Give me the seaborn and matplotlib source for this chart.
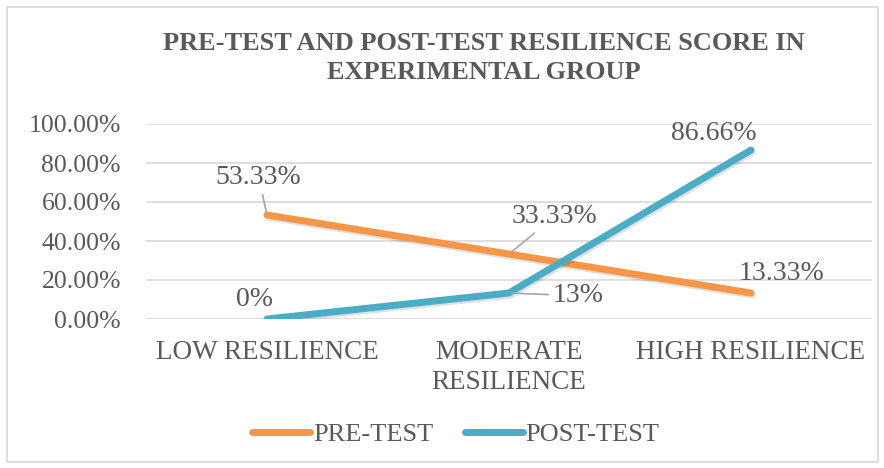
import matplotlib
matplotlib.use("Agg")
import matplotlib.pyplot as plt
import matplotlib.patheffects as pe
from matplotlib.lines import Line2D
from matplotlib.patches import Rectangle
import seaborn as sns
import pandas as pd

categories = ["LOW RESILIENCE", "MODERATE\nRESILIENCE", "HIGH RESILIENCE"]
pre_test = [53.33, 33.33, 13.33]
post_test = [0.0, 13.33, 86.66]
pre_labels = ["53.33%", "33.33%", "13.33%"]
post_labels = ["0%", "13%", "86.66%"]
series_names = ["PRE-TEST", "POST-TEST"]
yticks = [0, 20, 40, 60, 80, 100]
ytick_labels = ["0.00%", "20.00%", "40.00%", "60.00%", "80.00%", "100.00%"]
title = "PRE-TEST AND POST-TEST RESILIENCE SCORE IN\nEXPERIMENTAL GROUP"

colors = {"PRE-TEST": "#F79646", "POST-TEST": "#4BACC6"}
text_color = "#595959"
grid_color = "#D9D9D9"

sns.set_theme(style="white")
plt.rcParams["font.family"] = ["Liberation Serif", "DejaVu Serif"]

rows = []
for i, c in enumerate(categories):
    rows.append({"pos": i, "value": pre_test[i], "series": "PRE-TEST"})
for i, c in enumerate(categories):
    rows.append({"pos": i, "value": post_test[i], "series": "POST-TEST"})
df = pd.DataFrame(rows)

fig = plt.figure(figsize=(8.84, 4.68), dpi=100)
fig.patch.set_facecolor("white")
fig.patches.append(Rectangle((7 / 884, 6 / 468), 871 / 884, 455 / 468,
                             transform=fig.transFigure, fill=False,
                             edgecolor=grid_color, linewidth=1.2))

ax = fig.add_axes([146 / 884, 1 - 319 / 468, 726 / 884, 195 / 468])
sns.lineplot(data=df, x="pos", y="value", hue="series", hue_order=series_names,
             palette=colors, linewidth=5, ax=ax, legend=False, sort=False)

for line in ax.lines:
    line.set_solid_capstyle("round")
    line.set_solid_joinstyle("round")
    line.set_path_effects([pe.SimpleLineShadow(offset=(1, -1.5), shadow_color="black", alpha=0.12),
                           pe.Normal()])

ax.set_xlim(-0.5, 2.5)
ax.set_ylim(0, 100)
ax.set_yticks(yticks)
ax.set_yticklabels(ytick_labels)
ax.set_xticks(range(len(categories)))
ax.set_xticklabels(categories, linespacing=1.25)
ax.tick_params(axis="y", length=0, pad=18, labelsize=18.5, labelcolor=text_color)
ax.tick_params(axis="x", length=0, pad=15, labelsize=19.5, labelcolor=text_color)
ax.set_xlabel("")
ax.set_ylabel("")
for s in ax.spines.values():
    s.set_visible(False)
ax.yaxis.grid(True, color=grid_color, linewidth=1.2)
ax.xaxis.grid(False)
ax.set_axisbelow(True)

lead = dict(arrowstyle="-", color="#A6A6A6", lw=1.2, shrinkA=1, shrinkB=2)
pre_offsets = [(-6, 27), (33, 27), (22, 14)]
pre_leader = [True, True, False]
post_offsets = [(-9, 14), (50, -2), (-27, 12)]
post_leader = [False, True, False]
for vals, labs, offs, leads in [(pre_test, pre_labels, pre_offsets, pre_leader),
                                (post_test, post_labels, post_offsets, post_leader)]:
    for i, (v, lab, off, ld) in enumerate(zip(vals, labs, offs, leads)):
        ax.annotate(lab, xy=(i, v), xytext=off, textcoords="offset points",
                    ha="center", va="center", fontsize=20, color=text_color,
                    arrowprops=lead if ld else None, zorder=5)

fig.text(484 / 884, 1 - 58 / 468, title, ha="center", va="center",
         fontsize=19, fontweight="bold", color=text_color, linespacing=1.3)

handles = [Line2D([0], [0], color=colors[n], lw=5, solid_capstyle="round") for n in series_names]
fig.legend(handles, series_names, loc="center", bbox_to_anchor=(456 / 884, 1 - 434 / 468),
           ncol=2, frameon=False, fontsize=19, handlelength=2.2, handletextpad=0.1,
           columnspacing=1.2, labelcolor=text_color)

fig.savefig("out.png", dpi=100)
